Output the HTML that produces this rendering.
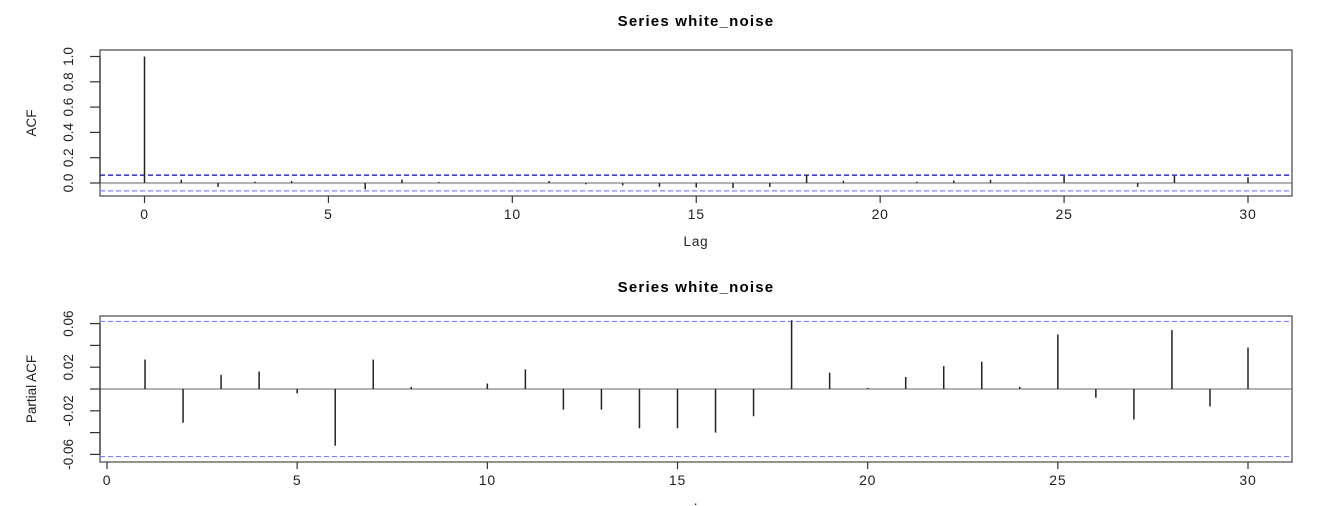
<!DOCTYPE html>
<html><head><meta charset="utf-8"><style>
html,body{margin:0;padding:0;background:#fff;}
svg{display:block;font-family:"Liberation Sans",Arial,sans-serif;}
</style></head><body>
<svg id="chart" width="1321" height="506" viewBox="0 0 1321 506">
<g id="top"></g>
<g id="bot"></g>
</svg>
<script>
const acfLags = [0,1,2,3,4,5,6,7,8,9,10,11,12,13,14,15,16,17,18,19,20,21,22,23,24,25,26,27,28,29,30];
const acfValues = [1,0.026,-0.03,0.01,0.015,0,-0.05,0.027,0.008,0,0.003,0.015,-0.01,-0.02,-0.03,-0.035,-0.04,-0.03,0.066,0.017,0,0.01,0.02,0.025,-0.003,0.055,-0.002,-0.03,0.055,-0.002,0.045];
const pacfLags = [1,2,3,4,5,6,7,8,9,10,11,12,13,14,15,16,17,18,19,20,21,22,23,24,25,26,27,28,29,30];
const pacfValues = [0.027,-0.031,0.013,0.016,-0.004,-0.052,0.027,0.002,0,0.005,0.018,-0.019,-0.019,-0.036,-0.036,-0.040,-0.025,0.063,0.015,0.001,0.011,0.021,0.025,0.002,0.050,-0.008,-0.028,0.054,-0.016,0.038];
const ciBound = 0.062;
const acfYTicks = [0,0.2,0.4,0.6,0.8,1.0];
const acfYLabels = ["0.0","0.2","0.4","0.6","0.8","1.0"];
const pacfYTicks = [-0.06,-0.04,-0.02,0,0.02,0.04,0.06];
const pacfYLabels = ["-0.06","","-0.02","","0.02","","0.06"];
const xTicks = [0,5,10,15,20,25,30];

const NS="http://www.w3.org/2000/svg";
function mk(parent,tag,attrs,text){const e=document.createElementNS(NS,tag);for(const k in attrs)e.setAttribute(k,attrs[k]);if(text!==undefined)e.textContent=text;parent.appendChild(e);return e;}

function panel(g,cfg){
  const xs=v=>cfg.x0+(v)*cfg.xk;
  const ys=v=>cfg.y0-(v)*cfg.yk;
  let e;
  e=mk(g,'text',{x:696,y:cfg.titleY,'text-anchor':'middle','font-size':15,'font-weight':'bold','letter-spacing':1.2,fill:'#000'},'Series  white_noise');
  
  
  e=mk(g,'rect',{x:cfg.bx,y:cfg.by,width:1292-cfg.bx,height:cfg.bh,fill:'none',stroke:'#555','stroke-width':1.3});
  
  
  e=mk(g,'line',{x1:cfg.bx,x2:1292,y1:ys(0),y2:ys(0),stroke:'#666','stroke-width':1});
  
  
  e=mk(g,'line',{x1:cfg.bx,x2:1292,y1:ys(ciBound),y2:ys(ciBound),stroke:cfg.ciUp,'stroke-width':1.2,'stroke-dasharray':'5,3'});
  
  
  e=mk(g,'line',{x1:cfg.bx,x2:1292,y1:ys(-ciBound),y2:ys(-ciBound),stroke:'#8080ff','stroke-width':1.2,'stroke-dasharray':'5,3'});
  
  
  cfg.lags.forEach((l,i)=>{
    const b=mk(g,'line',{x1:xs(l),x2:xs(l),y1:ys(0),y2:ys(cfg.vals[i]),stroke:'#222','stroke-width':1.5});
    
    
  });
  const ay=cfg.by+cfg.bh;
  xTicks.forEach(t=>{
    const tk=mk(g,'line',{x1:xs(t),x2:xs(t),y1:ay,y2:ay+7,stroke:'#333','stroke-width':1.2});
    
    
    const tl=mk(g,'text',{x:xs(t),y:ay+23,'text-anchor':'middle','font-size':14,'letter-spacing':0.8,fill:'#222'},String(t));
    
    
  });
  const yTop=ys(cfg.yt[cfg.yt.length-1]), yBot=ys(cfg.yt[0]);
  e=mk(g,'line',{x1:cfg.bx,x2:cfg.bx,y1:yTop,y2:yBot,stroke:'#333','stroke-width':1.2});
  
  
  cfg.yt.forEach((t,i)=>{
    const tk=mk(g,'line',{x1:cfg.bx-10,x2:cfg.bx,y1:ys(t),y2:ys(t),stroke:'#333','stroke-width':1.2});
    
    
    if(cfg.yl[i]){
      const tl=mk(g,'text',{x:0,y:0,transform:`translate(${cfg.bx-27},${ys(t)}) rotate(-90)`,'text-anchor':'middle','font-size':13.5,fill:'#222'},cfg.yl[i]);
      
      
    }
  });
  e=mk(g,'text',{x:0,y:0,transform:`translate(36,${cfg.by+cfg.bh/2}) rotate(-90)`,'text-anchor':'middle','font-size':13.5,fill:'#222'},cfg.ylab);
  
  
  e=mk(g,'text',{x:696,y:cfg.xlabY,'text-anchor':'middle','font-size':13.5,'letter-spacing':0.8,fill:'#222'},cfg.xlab);
  
  
}
panel(document.getElementById('top'),{titleY:26,bx:100,by:50,bh:146,x0:144.5,xk:(1248-144.5)/30,y0:183,yk:126.5,
  lags:acfLags,vals:acfValues,yt:acfYTicks,yl:acfYLabels,ylab:'ACF',xlab:'Lag',xlabY:246,ciUp:'#0000cc'});
panel(document.getElementById('bot'),{titleY:292,bx:100,by:316,bh:146,x0:107,xk:(1248-107)/30,y0:389,yk:1090,
  lags:pacfLags,vals:pacfValues,yt:pacfYTicks,yl:pacfYLabels,ylab:'Partial ACF',xlab:'.',xlabY:505,ciUp:'#8080ff'});
</script>
</body></html>
